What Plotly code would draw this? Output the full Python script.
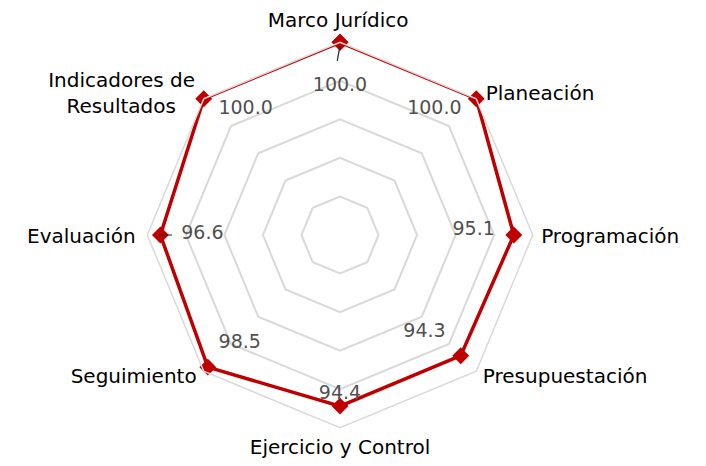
import plotly.graph_objects as go

# ---- data ----
categories = ["Marco Jurídico", "Planeación", "Programación", "Presupuestación",
              "Ejercicio y Control", "Seguimiento", "Evaluación",
              "Indicadores de Resultados"]
category_text = ["Marco Jurídico", "Planeación", "Programación", "Presupuestación",
                 "Ejercicio y Control", "Seguimiento", "Evaluación",
                 "Indicadores de<br>Resultados\u00a0\u00a0\u00a0"]
values = [100.0, 100.0, 95.1, 94.3, 94.4, 98.5, 96.6, 100.0]
value_labels = [f"{v:.1f}" for v in values]

# ---- styling / label placement (style only) ----
RED = "#C00000"
GRID = "#D9D9D9"
FONT = "DejaVu Sans, sans-serif"
n = len(categories)
step = 360 / n

# value labels: radial shift inward and angular shift (deg)
label_dr = [11.4, 9.3, 10.4, 10.8, 3.0, 10.2, 10.9, 9.3]
label_dtheta = [0, -8.0, -2.2, 4.1, 0, -2.2, 0.5, 8.0]
# category labels: radius (axis units), angle shift, anchor
cat_r = [105.4, 102.4, 102.2, 102.4, 105.6, 102.6, 103.0, 102.3]
cat_dtheta = [-0.5, 1.2, 0.9, 0, 0, 0, -0.9, -1.0]
cat_pos = ["middle center", "middle right", "middle right", "middle right",
           "middle center", "middle left", "middle left", "middle left"]

fig = go.Figure()

# main series on categorical polar
fig.add_trace(go.Scatterpolar(
    r=values + values[:1],
    theta=categories + categories[:1],
    mode="lines+markers",
    line=dict(color=RED, width=3.5),
    marker=dict(symbol="diamond", size=13, color=RED),
    subplot="polar",
    showlegend=False,
    hoverinfo="skip",
))

# value labels on an overlaid linear-angle polar (same units, larger extent)
lab_r = [v - d for v, d in zip(values, label_dr)]
lab_t = [i * step + dt for i, dt in enumerate(label_dtheta)]
fig.add_trace(go.Scatterpolar(
    r=lab_r, theta=lab_t, mode="text", text=value_labels,
    textposition="middle center",
    textfont=dict(family=FONT, size=19, color="#505050"),
    subplot="polar2", showlegend=False, hoverinfo="skip", cliponaxis=False,
))

# category labels
fig.add_trace(go.Scatterpolar(
    r=cat_r, theta=[i * step + dt for i, dt in enumerate(cat_dtheta)],
    mode="text", text=category_text, textposition=cat_pos,
    textfont=dict(family=FONT, size=20, color="black"),
    subplot="polar2", showlegend=False, hoverinfo="skip", cliponaxis=False,
))

# leader lines for two labels (index 0 and 6)
leaders = [(0, [99.1, 95.2], [0, -0.9]), (6, [97.0, 93.6], [0, 0])]
for idx, rr, dts in leaders:
    fig.add_trace(go.Scatterpolar(
        r=rr, theta=[idx * step + d for d in dts], mode="lines",
        line=dict(color="#222222", width=1.2),
        subplot="polar2", showlegend=False, hoverinfo="skip",
    ))

W, H = 706, 466
cx, cy = 332.0, 239.0          # polar centre in paper px (from left / bottom)
half_main, half_over = 192.7, 226.0
dom_x = [(cx - half_main) / W, (cx + half_main) / W]
dom_y = [(cy - half_main) / H, (cy + half_main) / H]
dom2_x = [(cx - half_over) / W, (cx + half_over) / W]
dom2_y = [(cy - half_over) / H, (cy + half_over) / H]
rmin, rmax = 50, 100
rmax2 = rmin + (rmax - rmin) * half_over / half_main

fig.update_layout(
    width=W, height=H,
    margin=dict(l=0, r=0, t=0, b=0),
    paper_bgcolor="white",
    plot_bgcolor="white",
    font=dict(family=FONT, size=20, color="black"),
    polar=dict(
        domain=dict(x=dom_x, y=dom_y),
        gridshape="linear",
        bgcolor="white",
        radialaxis=dict(range=[rmin, rmax], dtick=10, showticklabels=False,
                        showline=False, ticks="", gridcolor=GRID, gridwidth=1.5),
        angularaxis=dict(rotation=90, direction="clockwise",
                         showgrid=False, linecolor=GRID, linewidth=1.5,
                         ticks="", showticklabels=False),
    ),
    polar2=dict(
        domain=dict(x=dom2_x, y=dom2_y),
        bgcolor="rgba(0,0,0,0)",
        radialaxis=dict(range=[rmin, rmax2], visible=False),
        angularaxis=dict(rotation=90, direction="clockwise", visible=False,
                         type="linear", thetaunit="degrees"),
    ),
)

fig.write_html("out.html")
